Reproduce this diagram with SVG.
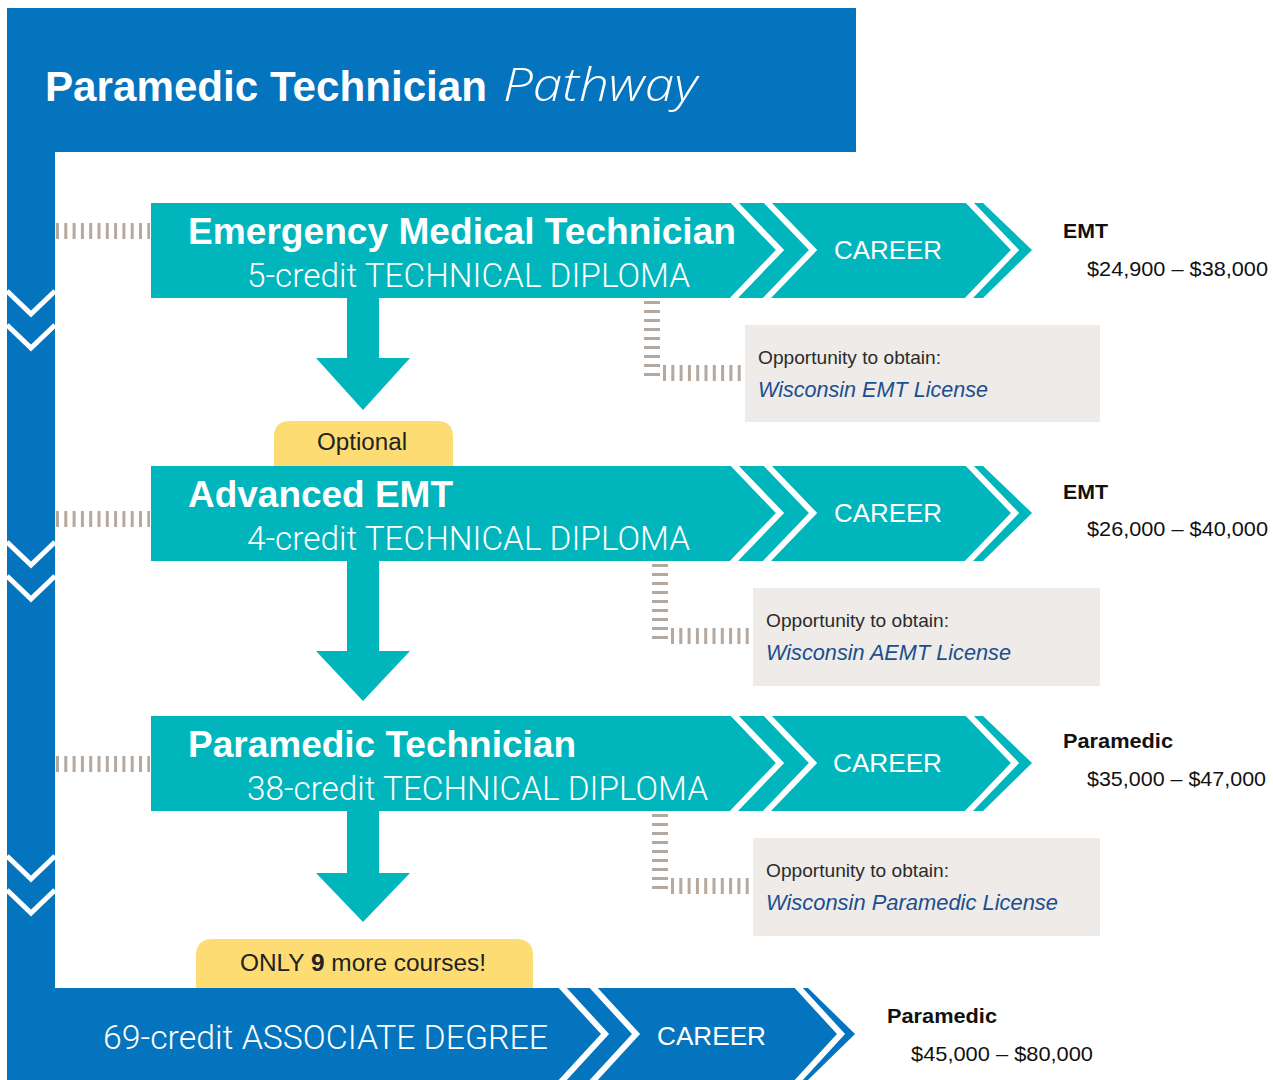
<svg xmlns="http://www.w3.org/2000/svg" width="1273" height="1080" viewBox="0 0 1273 1080">
<defs>
<style>
.blue{fill:#0474be}
.teal{fill:#00b5bc}
.chev{fill:none;stroke:#fff;stroke-width:6;stroke-linejoin:miter}
.lchev{fill:none;stroke:#fff;stroke-width:5}
.dash{fill:none;stroke:#b5a89e;stroke-width:16}
.dh{stroke-dasharray:3 5.3}
.dv{stroke-dasharray:3 6}
.box{fill:#eeebe8}
.tag{fill:#fddc73}
.h{font-family:"Liberation Sans",Arial,sans-serif;font-weight:bold;fill:#fff}
.s{font-family:"Liberation Sans",Arial,sans-serif;fill:#fff}
.sl{font-family:Roboto,"Liberation Sans",sans-serif;font-weight:300;fill:#fff}
.opp{font-family:"Liberation Sans",Arial,sans-serif;font-size:19px;fill:#2b2b2b}
.lic{font-family:"Liberation Sans",Arial,sans-serif;font-size:21.5px;font-style:italic;fill:#1b4f8f}
.job{font-family:"Liberation Sans",Arial,sans-serif;font-size:20px;font-weight:bold;fill:#111}
.pay{font-family:"Liberation Sans",Arial,sans-serif;font-size:21px;fill:#111}
.tg{font-family:"Liberation Sans",Arial,sans-serif;font-size:23px;fill:#222}
</style>
</defs>

<g id="frame">
<rect class="blue" x="7" y="8" width="849" height="144"/>
<rect class="blue" x="7" y="150" width="48" height="840"/>
<polyline class="lchev" points="7,291 31,314 55,291"/>
<polyline class="lchev" points="7,325 31,348 55,325"/>
<polyline class="lchev" points="7,542 31,565 55,542"/>
<polyline class="lchev" points="7,576 31,599 55,576"/>
<polyline class="lchev" points="7,856 31,879 55,856"/>
<polyline class="lchev" points="7,890 31,913 55,890"/>
<text class="h" x="45" y="101" font-size="43" textLength="442" lengthAdjust="spacingAndGlyphs">Paramedic Technician</text>
<text x="503" y="101" font-family="'Open Sans',sans-serif" font-style="italic" font-weight="300" font-size="46" fill="#fff" textLength="194" lengthAdjust="spacingAndGlyphs">Pathway</text>
</g>

<g id="connectors">
<line class="dash dh" x1="56" y1="231" x2="150" y2="231"/>
<line class="dash dh" x1="56" y1="519" x2="150" y2="519"/>
<line class="dash dh" x1="56" y1="764" x2="150" y2="764"/>
<line class="dash dv" x1="652" y1="301" x2="652" y2="382"/>
<line class="dash dh" x1="663" y1="373" x2="745" y2="373"/>
<line class="dash dv" x1="660" y1="564" x2="660" y2="645"/>
<line class="dash dh" x1="671" y1="636" x2="753" y2="636"/>
<line class="dash dv" x1="660" y1="814" x2="660" y2="895"/>
<line class="dash dh" x1="671" y1="886" x2="753" y2="886"/>
<polygon class="teal" points="347,298 379,298 379,358 410,358 363,410 316,358 347,358"/>
<polygon class="teal" points="347,561 379,561 379,651 410,651 363,701 316,651 347,651"/>
<polygon class="teal" points="347,811 379,811 379,873 410,873 363,922 316,873 347,873"/>
</g>

<g id="tag-optional">
<path class="tag" d="M274,466 V437 Q274,421 290,421 H437 Q453,421 453,437 V466 Z"/>
<text class="tg" x="362" y="450" text-anchor="middle" textLength="90" lengthAdjust="spacingAndGlyphs">Optional</text>
</g>

<g id="tag-only9">
<path class="tag" d="M196,990 V956 Q196,939 213,939 H516 Q533,939 533,956 V990 Z"/>
<text class="tg" x="240" y="971" textLength="246" lengthAdjust="spacingAndGlyphs">ONLY <tspan font-weight="bold">9</tspan> more courses!</text>
</g>

<g id="emt">
<polygon class="teal" points="151,203 983,203 1032,250 983,298 151,298"/>
<polyline class="chev" points="732,200 780,250 732,300"/>
<polyline class="chev" points="765,200 813,250 765,300"/>
<polyline class="chev" points="967,200 1015,250 967,300"/>
<text class="h" x="188" y="244" font-size="37" textLength="548" lengthAdjust="spacingAndGlyphs">Emergency Medical Technician</text>
<text class="sl" x="247" y="287" font-size="33" textLength="443" lengthAdjust="spacingAndGlyphs">5-credit TECHNICAL DIPLOMA</text>
<text class="s" x="834" y="259" font-size="26.5" textLength="108" lengthAdjust="spacingAndGlyphs">CAREER</text>
</g>

<g id="aemt">
<polygon class="teal" points="151,466 983,466 1032,513 983,561 151,561"/>
<polyline class="chev" points="732,463 780,513 732,563"/>
<polyline class="chev" points="765,463 813,513 765,563"/>
<polyline class="chev" points="967,463 1015,513 967,563"/>
<text class="h" x="188" y="507" font-size="37" textLength="265" lengthAdjust="spacingAndGlyphs">Advanced EMT</text>
<text class="sl" x="247" y="550" font-size="33" textLength="443" lengthAdjust="spacingAndGlyphs">4-credit TECHNICAL DIPLOMA</text>
<text class="s" x="834" y="522" font-size="26.5" textLength="108" lengthAdjust="spacingAndGlyphs">CAREER</text>
</g>

<g id="paramedic-tech">
<polygon class="teal" points="151,716 983,716 1032,763 983,811 151,811"/>
<polyline class="chev" points="732,713 780,763 732,813"/>
<polyline class="chev" points="765,713 813,763 765,813"/>
<polyline class="chev" points="967,713 1015,763 967,813"/>
<text class="h" x="188" y="757" font-size="37" textLength="388" lengthAdjust="spacingAndGlyphs">Paramedic Technician</text>
<text class="sl" x="247" y="800" font-size="33" textLength="461" lengthAdjust="spacingAndGlyphs">38-credit TECHNICAL DIPLOMA</text>
<text class="s" x="833" y="772" font-size="26.5" textLength="109" lengthAdjust="spacingAndGlyphs">CAREER</text>
</g>

<g id="associate">
<polygon class="blue" points="7,988 808,988 855,1034 808,1080 7,1080"/>
<polyline class="chev" points="560,985 605,1034 560,1083"/>
<polyline class="chev" points="591,985 636,1034 591,1083"/>
<polyline class="chev" points="796,985 841,1034 796,1083"/>
<text class="sl" x="103" y="1049" font-size="33" textLength="445" lengthAdjust="spacingAndGlyphs">69-credit ASSOCIATE DEGREE</text>
<text class="s" x="657" y="1045" font-size="26.5" textLength="109" lengthAdjust="spacingAndGlyphs">CAREER</text>
</g>

<g id="license-emt">
<rect class="box" x="745" y="325" width="355" height="97"/>
<text class="opp" x="758" y="364" textLength="183" lengthAdjust="spacingAndGlyphs">Opportunity to obtain:</text>
<text class="lic" x="758" y="397" textLength="230" lengthAdjust="spacingAndGlyphs">Wisconsin EMT License</text>
</g>
<g id="license-aemt">
<rect class="box" x="753" y="588" width="347" height="98"/>
<text class="opp" x="766" y="627" textLength="183" lengthAdjust="spacingAndGlyphs">Opportunity to obtain:</text>
<text class="lic" x="766" y="660" textLength="245" lengthAdjust="spacingAndGlyphs">Wisconsin AEMT License</text>
</g>
<g id="license-paramedic">
<rect class="box" x="753" y="838" width="347" height="98"/>
<text class="opp" x="766" y="877" textLength="183" lengthAdjust="spacingAndGlyphs">Opportunity to obtain:</text>
<text class="lic" x="766" y="910" textLength="292" lengthAdjust="spacingAndGlyphs">Wisconsin Paramedic License</text>
</g>

<g id="salary-emt">
<text class="job" x="1063" y="238" textLength="45" lengthAdjust="spacingAndGlyphs">EMT</text>
<text class="pay" x="1087" y="276" textLength="181" lengthAdjust="spacingAndGlyphs">$24,900 – $38,000</text>
</g>
<g id="salary-aemt">
<text class="job" x="1063" y="499" textLength="45" lengthAdjust="spacingAndGlyphs">EMT</text>
<text class="pay" x="1087" y="536" textLength="181" lengthAdjust="spacingAndGlyphs">$26,000 – $40,000</text>
</g>
<g id="salary-paramedic-tech">
<text class="job" x="1063" y="748" textLength="110" lengthAdjust="spacingAndGlyphs">Paramedic</text>
<text class="pay" x="1087" y="786" textLength="179" lengthAdjust="spacingAndGlyphs">$35,000 – $47,000</text>
</g>
<g id="salary-associate">
<text class="job" x="887" y="1023" textLength="110" lengthAdjust="spacingAndGlyphs">Paramedic</text>
<text class="pay" x="911" y="1061" textLength="182" lengthAdjust="spacingAndGlyphs">$45,000 – $80,000</text>
</g>
</svg>
